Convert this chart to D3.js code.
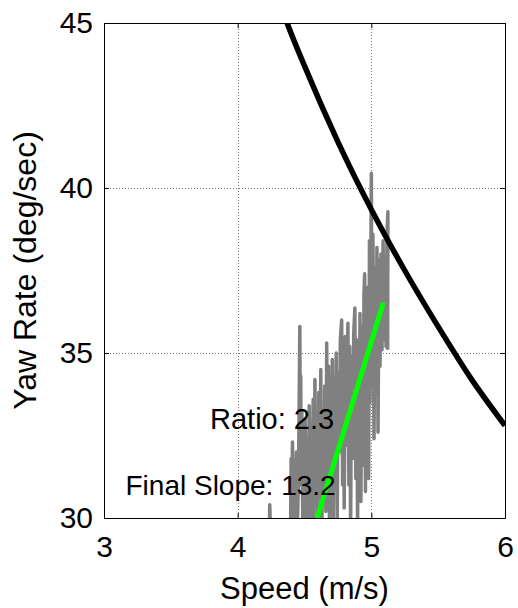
<!DOCTYPE html>
<html>
<head>
<meta charset="utf-8">
<script src="https://cdn.jsdelivr.net/npm/d3@7"></script>
<style>
  html, body { margin: 0; padding: 0; background: #fff; }
  svg { display: block; }
  text { font-family: Arial, "Liberation Sans", Helvetica, sans-serif; fill: #000; }
</style>
</head>
<body>
<svg id="chart" width="518" height="608"></svg>
<script>
// ---------- data ----------
const xTicks = [3, 4, 5, 6];
const yTicks = [30, 35, 40, 45];
const xGrid = [4, 5];
const yGrid = [35, 40];

// limit curve (black)
const limitSpeed = [4.30, 4.37, 4.50, 4.75, 5.00, 5.25, 5.50, 5.75, 6.00];
const limitYaw   = [45.8, 45.0, 43.7, 41.4, 39.35, 37.5, 35.8, 34.2, 32.8];

// measured trace (gray)
const traceSpeed = [4.235, 4.24, 4.25, 4.395, 4.40, 4.405, 4.41, 4.42, 4.425, 4.43,
  4.44, 4.445, 4.455, 4.46, 4.465, 4.468, 4.472, 4.475, 4.48, 4.488,
  4.495, 4.50, 4.505, 4.512, 4.52, 4.528, 4.535, 4.542, 4.55, 4.556,
  4.565, 4.57, 4.578, 4.585, 4.592, 4.60, 4.607, 4.615, 4.622, 4.63,
  4.637, 4.645, 4.652, 4.66, 4.666, 4.672, 4.68, 4.687, 4.695, 4.70,
  4.708, 4.715, 4.722, 4.73, 4.737, 4.745, 4.752, 4.76, 4.768, 4.778,
  4.785, 4.79, 4.797, 4.805, 4.812, 4.818, 4.825, 4.832, 4.838, 4.845,
  4.852, 4.86, 4.868, 4.877, 4.884, 4.89, 4.897, 4.905, 4.91, 4.915,
  4.922, 4.93, 4.938, 4.945, 4.95, 4.956, 4.962, 4.968, 4.975, 4.98,
  4.986, 4.99, 4.995, 5.00, 5.005, 5.012, 5.02, 5.028, 5.035, 5.042,
  5.05, 5.058, 5.065, 5.072, 5.08, 5.088, 5.095, 5.102, 5.11, 5.117,
  5.124, 5.122];
const traceYaw = [29.0, 30.4, 29.0, 29.3, 31.8, 30.2, 32.3, 29.6, 31.5, 30.0,
  32.0, 29.4, 31.2, 33.5, 35.8, 33.0, 34.3, 31.0, 33.2, 29.5,
  32.6, 30.4, 33.0, 29.3, 32.4, 30.0, 33.4, 29.8, 32.8, 30.8,
  33.6, 29.4, 34.2, 30.5, 32.9, 29.6, 33.8, 30.9, 34.5, 29.4,
  33.2, 31.0, 34.0, 30.2, 35.3, 31.5, 34.6, 29.8, 33.9, 30.6,
  34.8, 29.5, 34.2, 31.2, 35.0, 30.0, 34.4, 32.0, 35.4, 36.0,
  31.0, 34.8, 30.3, 35.5, 32.2, 34.6, 35.9, 31.0, 35.2, 29.6,
  34.9, 31.8, 35.6, 36.36, 31.2, 35.4, 29.8, 35.0, 32.4, 36.2,
  30.5, 35.8, 31.6, 36.8, 37.4, 30.8, 36.5, 32.6, 37.0, 31.2,
  38.4, 33.5, 36.2, 40.45, 34.0, 38.6, 32.4, 37.6, 33.8, 38.2,
  32.6, 37.8, 34.6, 38.0, 35.1, 38.4, 35.4, 37.6, 35.2, 38.6,
  39.28, 35.1];

// final slope fit (green)
const fitSpeed = [4.595, 5.09];
const fitYaw   = [30.0, 36.53];

const ratioText = "Ratio: 2.3";
const slopeText = "Final Slope: 13.2";
const xLabel = "Speed (m/s)";
const yLabel = "Yaw Rate (deg/sec)";

// ---------- layout ----------
const L = 104, T = 23, R = 505, B = 518;
const svg = d3.select("#chart");
const x = d3.scaleLinear().domain([3, 6]).range([L, R]);
const y = d3.scaleLinear().domain([30, 45]).range([B, T]);

svg.append("rect").attr("x", 0).attr("y", 0).attr("width", 518).attr("height", 608).attr("fill", "#fff");

svg.append("defs").append("clipPath").attr("id", "clip")
  .append("rect").attr("x", L).attr("y", T).attr("width", R - L).attr("height", B - T);

// grid
const grid = svg.append("g").attr("stroke", "#7a7a7a").attr("stroke-width", 1)
  .attr("stroke-dasharray", "1,2");
grid.selectAll("line.gx").data(xGrid).join("line").attr("class", "gx")
  .attr("x1", d => Math.round(x(d)) + 0.5).attr("x2", d => Math.round(x(d)) + 0.5)
  .attr("y1", T).attr("y2", B);
grid.selectAll("line.gy").data(yGrid).join("line").attr("class", "gy")
  .attr("y1", d => Math.round(y(d)) + 0.5).attr("y2", d => Math.round(y(d)) + 0.5)
  .attr("x1", L).attr("x2", R);

const plot = svg.append("g").attr("clip-path", "url(#clip)");

const line = d3.line().x(d => x(d[0])).y(d => y(d[1]));

// gray trace
plot.append("path")
  .datum(traceSpeed.map((s, i) => [s, traceYaw[i]]))
  .attr("d", line)
  .attr("fill", "none").attr("stroke", "#808080").attr("stroke-width", 3.5)
  .attr("stroke-linejoin", "round");

// green fit
plot.append("path")
  .datum(fitSpeed.map((s, i) => [s, fitYaw[i]]))
  .attr("d", line)
  .attr("fill", "none").attr("stroke", "#00ff00").attr("stroke-width", 5);

// black limit curve
plot.append("path")
  .datum(limitSpeed.map((s, i) => [s, limitYaw[i]]))
  .attr("d", d3.line().x(d => x(d[0])).y(d => y(d[1])).curve(d3.curveMonotoneX))
  .attr("fill", "none").attr("stroke", "#000").attr("stroke-width", 5.5);

// annotations
svg.append("text").attr("x", 210).attr("y", 428.5).attr("font-size", 29).text(ratioText);
svg.append("text").attr("x", 125.5).attr("y", 495).attr("font-size", 28).text(slopeText);

// axes
const fmt = d3.format("d");
const xb = d3.axisBottom(x).tickValues(xTicks).tickFormat(fmt).tickSizeInner(-5).tickSizeOuter(0).tickPadding(18);
const xt = d3.axisTop(x).tickValues(xTicks).tickSizeInner(-5).tickSizeOuter(0).tickFormat("");
const yl = d3.axisLeft(y).tickValues(yTicks).tickFormat(fmt).tickSizeInner(-5).tickSizeOuter(0).tickPadding(11);
const yr = d3.axisRight(y).tickValues(yTicks).tickSizeInner(-5).tickSizeOuter(0).tickFormat("");

function style(g) {
  g.selectAll("path.domain").attr("stroke", "#000").attr("stroke-width", 1);
  g.selectAll(".tick line").attr("stroke", "#000").attr("stroke-width", 1);
  g.selectAll(".tick text").attr("font-size", 30)
    .attr("font-family", 'Arial, "Liberation Sans", Helvetica, sans-serif').attr("fill", "#000");
}
svg.append("g").attr("transform", `translate(0,${B})`).call(xb).call(style);
svg.append("g").attr("transform", `translate(0,${T})`).call(xt).call(style);
svg.append("g").attr("transform", `translate(${L},0)`).call(yl).call(style);
svg.append("g").attr("transform", `translate(${R},0)`).call(yr).call(style);

// axis labels
svg.append("text").attr("x", (L + R) / 2).attr("y", 598.5).attr("text-anchor", "middle")
  .attr("font-size", 31).text(xLabel);
svg.append("text").attr("transform", `translate(36,${(T + B) / 2}) rotate(-90)`)
  .attr("text-anchor", "middle").attr("font-size", 32).text(yLabel);
</script>
</body>
</html>
